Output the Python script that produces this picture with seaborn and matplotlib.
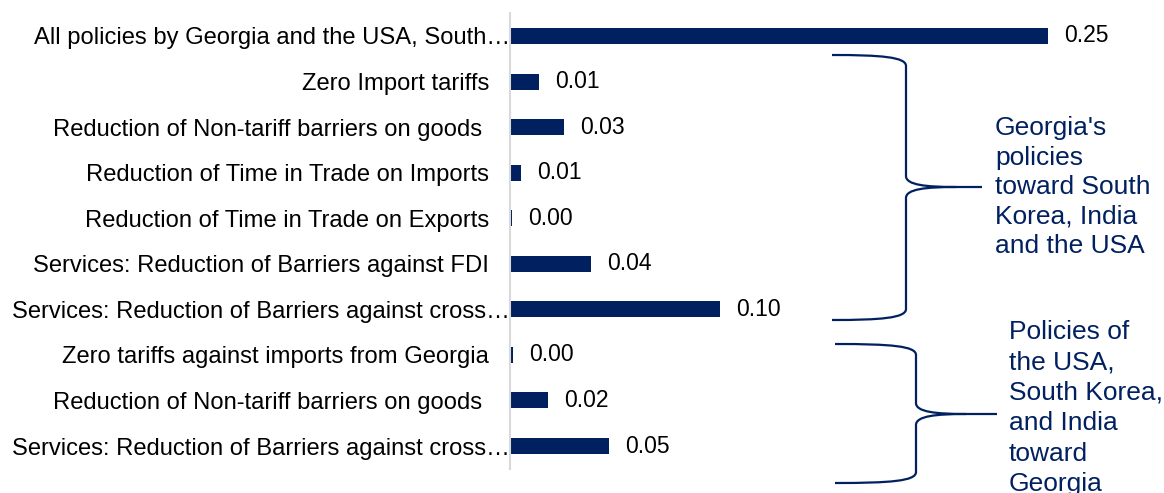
import matplotlib
matplotlib.use("Agg")
import matplotlib.pyplot as plt
from matplotlib.path import Path
from matplotlib.patches import PathPatch
from matplotlib.transforms import Affine2D, ScaledTranslation
import seaborn as sns
import pandas as pd

# Policy scenarios, top to bottom
categories = [
    "All policies by Georgia and the USA, South\u2026",
    "Zero Import tariffs",
    "Reduction of Non-tariff barriers on goods ",
    "Reduction of Time in Trade on Imports",
    "Reduction of Time in Trade on Exports",
    "Services: Reduction of Barriers against FDI",
    "Services: Reduction of Barriers against cross\u2026",
    "Zero tariffs against imports from Georgia",
    "Reduction of Non-tariff barriers on goods ",
    "Services: Reduction of Barriers against cross\u2026",
]
values = [0.250, 0.0135, 0.0252, 0.0052, 0.0008, 0.0376, 0.0976, 0.0014, 0.0177, 0.0460]
truncated = [0, 6, 9]

group_labels = [
    "Georgia's\npolicies\ntoward South\nKorea, India\nand the USA",
    "Policies of\nthe USA,\nSouth Korea,\nand India\ntoward\nGeorgia",
]

NAVY = "#002060"
W, H = 1164, 493

sns.set_theme(style="white")
plt.rcParams["font.family"] = ["Liberation Sans", "DejaVu Sans"]

fig = plt.figure(figsize=(W / 100, H / 100), dpi=100)
ax = fig.add_axes([510 / W, (H - 468.8) / H, 650 / W, 455.6 / H])

df = pd.DataFrame({"row": [f"r{i}" for i in range(len(values))], "value": values})
sns.barplot(data=df, x="value", y="row", orient="h", color=NAVY,
            saturation=1, width=0.35, linewidth=0, ax=ax)

ax.set_xlim(0, 650 / 2152)
ax.set_xlabel("")
ax.set_ylabel("")
ax.set_xticks([])
ax.set_yticks(range(len(categories)))
ax.set_yticklabels(categories, fontsize=17.1, color="#000000")
ax.tick_params(axis="y", length=0, pad=15)
for i in truncated:
    lbl = ax.get_yticklabels()[i]
    lbl.set_transform(lbl.get_transform() + ScaledTranslation(0.205, 0, fig.dpi_scale_trans))

for side in ["top", "right", "bottom"]:
    ax.spines[side].set_visible(False)
ax.spines["left"].set_color("#D9D9D9")
ax.spines["left"].set_linewidth(1.5)

ax.bar_label(ax.containers[0], labels=[f"{v:.2f}" for v in values],
             padding=11.5, fontsize=16.5, color="#000000")

# Curly braces grouping the scenarios (pixel coordinates, y downward)
px = Affine2D().scale(1 / W, -1 / H).translate(0, 1) + fig.transFigure


def brace(x0, xs, xt, top, mid, bot):
    r = 11
    verts = [
        (x0, top), (xs - 25, top), (xs, top + 2), (xs, top + r),
        (xs, mid - r),
        (xs, mid - 2), (xs + 20, mid), (xs + 50, mid),
        (xt, mid),
    ]
    codes = [Path.MOVETO, Path.CURVE4, Path.CURVE4, Path.CURVE4,
             Path.LINETO,
             Path.CURVE4, Path.CURVE4, Path.CURVE4,
             Path.LINETO]
    verts2 = [
        (xs + 50, mid), (xs + 20, mid), (xs, mid + 2), (xs, mid + r),
        (xs, bot - r),
        (xs, bot - 2), (xs - 25, bot), (x0, bot),
    ]
    codes2 = [Path.MOVETO, Path.CURVE4, Path.CURVE4, Path.CURVE4,
              Path.LINETO,
              Path.CURVE4, Path.CURVE4, Path.CURVE4]
    for v, c in ((verts, codes), (verts2, codes2)):
        fig.add_artist(PathPatch(Path(v, c), transform=px, fill=False,
                                 edgecolor=NAVY, linewidth=1.6))


brace(832, 906, 982, 55, 187, 320)
brace(835, 916, 997, 344, 414, 483)

fig.text(995, 116, group_labels[0], transform=px, fontsize=19, color=NAVY,
         ha="left", va="top", linespacing=1.29)
fig.text(1009, 320, group_labels[1], transform=px, fontsize=19, color=NAVY,
         ha="left", va="top", linespacing=1.34)

fig.savefig("out.png", dpi=100)
